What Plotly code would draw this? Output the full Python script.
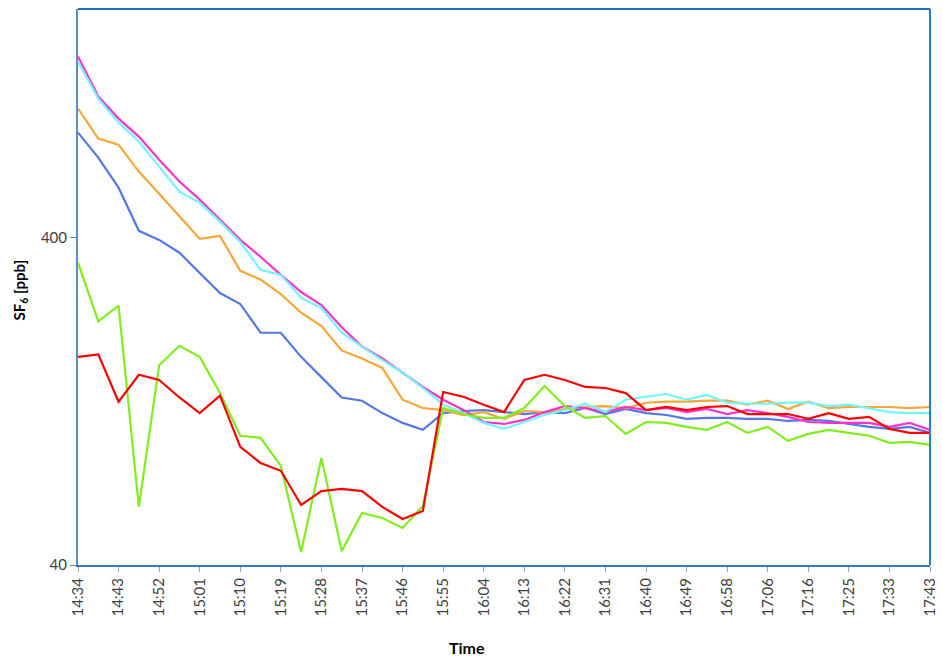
import plotly.graph_objects as go
import math

times = ["14:34", "14:38", "14:43", "14:47", "14:52", "14:56", "15:01", "15:05", "15:10", "15:14",
         "15:19", "15:23", "15:28", "15:32", "15:37", "15:41", "15:46", "15:50", "15:55", "15:59",
         "16:04", "16:08", "16:13", "16:17", "16:22", "16:26", "16:31", "16:35", "16:40", "16:44",
         "16:49", "16:53", "16:58", "17:02", "17:06", "17:11", "17:16", "17:20", "17:25", "17:29",
         "17:33", "17:38", "17:43"]

magenta = [1431, 1080, 925, 815, 693, 594, 523, 454, 394, 350, 308, 273, 249, 213, 186, 171, 155, 140,
           128, 119, 109.4, 107.9, 111, 117.3, 122.4, 120.7, 117.3, 121.6, 119, 120.7, 117.3, 119.9,
           115.7, 119, 116.5, 113.4, 109.4, 108.7, 108.7, 108.7, 105.7, 108.7, 103.5]
cyan = [1381, 1065, 899, 787, 660, 553, 512, 448, 388, 319, 308, 262, 244, 205, 186, 169, 155, 139,
        123.6, 116.5, 108.7, 104.2, 109.4, 114.9, 119, 124.4, 117.3, 128, 130.7, 133.2, 128, 132.3,
        125.3, 124.4, 124.4, 125.3, 125.3, 122.4, 123.6, 120.7, 117.3, 116.5, 116.5]
orange = [992, 804, 770, 637, 545, 464, 397, 405, 317, 298, 269, 236, 215, 181, 171, 160, 128, 120.7,
          119, 114.9, 117.3, 111.8, 118.2, 117.3, 119.9, 121.6, 122.4, 120.7, 125.3, 126.2, 126.2, 127.1,
          127.1, 123.6, 127.1, 119.9, 126.2, 120.7, 121.6, 121.6, 121.6, 120.7, 121.6]
blue = [838, 703, 569, 420, 394, 360, 312, 271, 251, 205, 205, 173, 150, 130, 127.1, 116.5, 108.7, 103.5,
        116.5, 118.2, 119, 117.3, 115.7, 117.3, 116.5, 120.7, 115.7, 119.9, 116.5, 114.9, 111.8, 112.6,
        112.6, 111.8, 111.8, 110.2, 111, 110.2, 107.9, 105.7, 104.2, 105.7, 101.3]
red = [173, 176, 126.2, 152.5, 147, 130, 116.5, 131.7, 91.8, 82, 77.6, 61, 67.3, 68.3, 67.3, 60.2, 55.3,
       58.5, 135.1, 130.7, 123.6, 117.3, 147, 152.5, 147, 140, 139, 134.1, 119, 121.6, 119, 121.6,
       122.4, 115.7, 115.7, 115.7, 111.8, 116.5, 111.8, 113.4, 104.2, 101.3, 101.3]
green = [336, 222, 248, 60.2, 163, 187, 173, 134.1, 99.3, 97.9, 80.3, 43.8, 85, 44.1, 57.7, 55.7, 51.9,
         60.6, 120.7, 115.7, 112.6, 112.6, 120.7, 140.9, 122.4, 112.6, 114.1, 100.6, 109.4, 108.7, 105.7,
         103.5, 109.4, 101.3, 105.7, 95.8, 100.6, 103.5, 101.3, 99.3, 94.5, 95.1, 93.1]

y_ticks = [40, 400]
y_ticktext = ["40", "400"]
x_tickvals = times[::2]

series = [
    ("blue", blue, "#5478E4"),
    ("orange", orange, "#F7A736"),
    ("magenta", magenta, "#FF33CC"),
    ("cyan", cyan, "#70F6FF"),
    ("green", green, "#80EE1E"),
    ("red", red, "#FF0000"),
]

fig = go.Figure()
for name, vals, col in series:
    fig.add_trace(go.Scatter(x=times, y=vals, mode="lines", name=name,
                             line=dict(color=col, width=2.2), showlegend=False))

tickfont = dict(family="Lato, Carlito, sans-serif", size=15, color="#404040")
fig.update_layout(
    width=935, height=651,
    margin=dict(l=70, r=13, t=1, b=94, autoexpand=False),
    paper_bgcolor="white", plot_bgcolor="white",
    xaxis=dict(type="category", range=[0, len(times) - 1], tickmode="array",
               tickvals=x_tickvals, ticktext=x_tickvals, tickangle=-90,
               ticks="outside", ticklen=5, tickcolor="#A0A0A0", tickfont=tickfont,
               showgrid=False, zeroline=False, showline=True, linecolor="#2E7AC4", linewidth=2,
               automargin=False),
    yaxis=dict(type="log", range=[math.log10(40), math.log10(2000)], tickmode="array",
               tickvals=y_ticks, ticktext=y_ticktext, ticks="outside", ticklen=6,
               tickcolor="#808080", tickfont=tickfont, showgrid=False, zeroline=False,
               showline=True, linecolor="#5B8FC8", linewidth=2, automargin=False),
)
# top and right frame
fig.add_shape(type="line", xref="paper", yref="paper", x0=0, x1=1, y0=1, y1=1,
              line=dict(color="#1F6FBF", width=2))
fig.add_shape(type="line", xref="paper", yref="paper", x0=1, x1=1, y0=0, y1=1,
              line=dict(color="#1F7FD8", width=2))

fig.add_annotation(text="<b>SF<sub>6</sub> [ppb]</b>", xref="paper", yref="paper",
                   x=-0.068, y=0.494, textangle=-90, showarrow=False,
                   xanchor="center", yanchor="middle",
                   font=dict(family="Lato, Carlito, sans-serif", size=15, color="black"))
fig.add_annotation(text="<b>Time</b>", xref="paper", yref="paper",
                   x=0.457, y=-0.149, showarrow=False,
                   xanchor="center", yanchor="middle",
                   font=dict(family="Lato, Carlito, sans-serif", size=16, color="black"))

fig.write_html("out.html")
